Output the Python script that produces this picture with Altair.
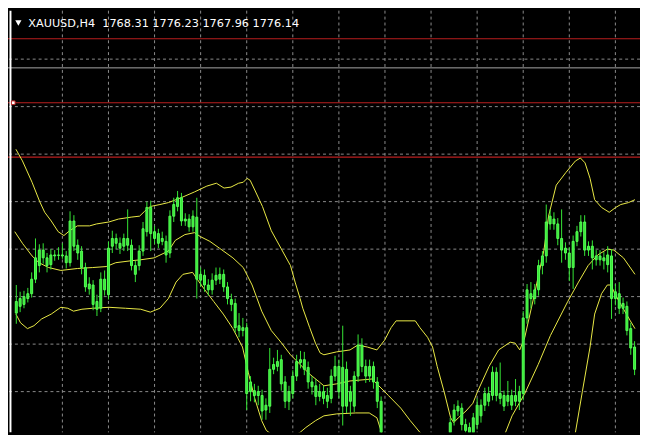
import altair as alt
import pandas as pd

# ---------------- data (prices) ----------------
idx = list(range(-1, 161))

opens = [1784.6,
    1786.0, 1786.4, 1787.6, 1788.6, 1791.6, 1794.4, 1797.6, 1796.0, 1794.6, 1796.6,
    1796.6, 1796.6, 1796.4, 1795.0, 1803.6, 1798.6, 1797.4, 1794.0, 1790.6, 1790.4,
    1787.0, 1785.6, 1791.6, 1788.4, 1798.4, 1800.0, 1799.0, 1798.4, 1800.0, 1798.6,
    1794.4, 1794.4, 1797.4, 1801.4, 1806.4, 1801.4, 1801.0, 1799.4, 1799.4, 1797.0,
    1804.6, 1806.6, 1808.4, 1804.0, 1804.0, 1802.4, 1804.4, 1791.4, 1792.4, 1790.4,
    1789.4, 1791.4, 1791.6, 1792.6, 1790.0, 1787.4, 1786.6, 1782.0, 1781.0, 1781.6,
    1768.4, 1768.6, 1768.4, 1767.6, 1764.6, 1765.4, 1773.0, 1773.6, 1775.0, 1770.4,
    1766.4, 1768.0, 1771.6, 1774.4, 1775.0, 1773.4, 1770.4, 1769.6, 1767.4, 1768.4,
    1766.4, 1767.0, 1771.6, 1773.6, 1765.4, 1773.0, 1766.4, 1765.4, 1771.6, 1778.0,
    1773.6, 1771.6, 1773.6, 1770.4, 1766.4, 1759.0, 1757.0, 1758.0, 1755.0, 1756.0,
    1753.0, 1754.0, 1752.0, 1753.4, 1751.4, 1752.6, 1754.0, 1753.0, 1755.4, 1754.6,
    1757.0, 1756.0, 1758.0, 1762.4, 1764.4, 1765.0, 1761.6, 1761.0, 1759.4, 1761.6,
    1765.6, 1765.6, 1768.0, 1767.6, 1772.4, 1768.0, 1767.6, 1766.4, 1767.6, 1766.4,
    1766.4, 1768.0, 1783.6, 1788.6, 1787.6, 1789.4, 1794.4, 1796.4, 1803.0, 1804.0,
    1803.0, 1800.0, 1798.0, 1797.0, 1794.0, 1799.4, 1801.4, 1803.4, 1797.6, 1798.4,
    1795.6, 1796.4, 1796.0, 1794.6, 1796.4, 1787.6, 1788.6, 1785.6, 1786.0, 1781.4,
    1777.6]

closes = [1787.0,
    1787.6, 1788.0, 1788.6, 1791.6, 1796.0, 1797.6, 1796.0, 1794.4, 1796.6, 1796.4,
    1796.5, 1796.4, 1795.0, 1803.6, 1798.4, 1797.0, 1794.0, 1790.0, 1789.6, 1786.4,
    1785.4, 1791.6, 1789.4, 1798.0, 1800.0, 1799.0, 1798.0, 1800.0, 1798.6, 1794.4,
    1792.6, 1797.4, 1802.0, 1806.4, 1801.0, 1800.0, 1799.0, 1800.0, 1796.6, 1804.6,
    1807.0, 1808.4, 1803.6, 1803.6, 1802.4, 1804.6, 1791.6, 1792.6, 1790.4, 1789.4,
    1791.4, 1792.4, 1792.6, 1790.0, 1787.6, 1786.4, 1781.6, 1781.0, 1781.6, 1768.0,
    1770.4, 1767.6, 1767.6, 1764.4, 1765.6, 1773.0, 1774.0, 1774.6, 1770.0, 1766.4,
    1768.4, 1771.6, 1774.6, 1775.0, 1773.0, 1770.4, 1769.4, 1767.4, 1768.4, 1767.0,
    1767.6, 1771.6, 1773.6, 1768.4, 1773.4, 1765.4, 1768.4, 1771.6, 1778.0, 1773.6,
    1771.6, 1773.6, 1770.4, 1766.4, 1759.0, 1757.0, 1758.0, 1755.0, 1756.0, 1753.0,
    1754.0, 1752.0, 1753.4, 1751.4, 1752.6, 1754.0, 1753.0, 1755.4, 1754.6, 1757.0,
    1756.0, 1758.0, 1762.0, 1764.6, 1765.4, 1761.6, 1760.4, 1759.0, 1763.0, 1765.6,
    1763.4, 1768.0, 1766.4, 1772.4, 1767.6, 1767.0, 1765.4, 1767.6, 1765.6, 1767.6,
    1768.4, 1783.6, 1789.4, 1787.6, 1789.4, 1794.4, 1796.4, 1803.4, 1804.6, 1803.0,
    1800.0, 1797.6, 1797.0, 1794.0, 1799.4, 1801.4, 1803.4, 1797.6, 1798.4, 1796.0,
    1796.4, 1795.6, 1795.4, 1796.6, 1787.6, 1789.0, 1785.6, 1786.6, 1781.0, 1777.4,
    1773.0]

highs = [1790.4,
    1789.0, 1789.2, 1789.8, 1793.0, 1800.0, 1798.8, 1799.0, 1797.0, 1797.8, 1797.6,
    1798.2, 1799.0, 1797.4, 1805.6, 1804.8, 1799.8, 1798.4, 1795.0, 1792.0, 1791.4,
    1788.4, 1793.0, 1793.4, 1799.4, 1801.6, 1801.0, 1800.2, 1801.0, 1806.0, 1799.8,
    1795.4, 1798.6, 1803.4, 1807.6, 1807.8, 1802.6, 1802.0, 1801.4, 1800.6, 1805.8,
    1808.4, 1809.8, 1809.4, 1805.2, 1805.0, 1805.8, 1808.4, 1794.0, 1793.6, 1791.6,
    1792.8, 1794.0, 1794.0, 1793.6, 1791.0, 1788.6, 1787.6, 1784.6, 1783.6, 1782.6,
    1771.6, 1770.0, 1769.6, 1768.8, 1767.0, 1777.4, 1775.4, 1777.0, 1776.0, 1771.6,
    1769.6, 1772.8, 1776.0, 1776.8, 1776.6, 1774.6, 1771.6, 1771.0, 1770.0, 1769.6,
    1769.2, 1773.0, 1775.8, 1775.0, 1782.0, 1774.6, 1769.6, 1772.6, 1780.2, 1779.4,
    1775.0, 1775.0, 1774.6, 1771.4, 1767.4, 1759.8, 1759.0, 1759.0, 1757.0, 1757.0,
    1755.0, 1755.0, 1754.4, 1754.4, 1753.6, 1755.0, 1755.0, 1756.4, 1756.4, 1758.0,
    1758.0, 1759.0, 1763.0, 1765.8, 1766.6, 1766.0, 1762.8, 1762.0, 1764.0, 1767.0,
    1766.8, 1769.2, 1769.4, 1773.6, 1773.4, 1774.4, 1768.6, 1770.6, 1768.8, 1771.0,
    1769.6, 1785.0, 1790.6, 1791.0, 1790.6, 1795.6, 1797.4, 1807.0, 1806.0, 1805.4,
    1804.2, 1806.0, 1799.2, 1798.2, 1800.6, 1802.6, 1804.8, 1804.8, 1799.4, 1799.6,
    1797.6, 1797.6, 1797.2, 1798.4, 1797.8, 1790.6, 1791.0, 1787.8, 1787.0, 1782.6,
    1778.8]

lows = [1782.4,
    1784.8, 1785.6, 1786.8, 1787.8, 1790.8, 1793.0, 1794.8, 1793.0, 1793.6, 1795.4,
    1795.6, 1795.8, 1793.8, 1794.2, 1797.4, 1795.6, 1792.6, 1789.0, 1788.4, 1785.2,
    1784.0, 1784.8, 1788.2, 1787.4, 1797.0, 1797.8, 1796.8, 1797.4, 1797.4, 1793.4,
    1791.0, 1793.4, 1796.4, 1800.4, 1797.4, 1798.8, 1798.0, 1798.6, 1795.0, 1796.0,
    1803.4, 1805.6, 1802.6, 1802.6, 1801.4, 1801.4, 1787.6, 1790.0, 1789.0, 1788.2,
    1788.4, 1790.4, 1790.6, 1789.0, 1786.4, 1785.0, 1780.6, 1779.6, 1779.8, 1764.6,
    1766.4, 1766.2, 1765.6, 1762.6, 1762.6, 1764.0, 1772.0, 1772.6, 1768.6, 1765.0,
    1764.6, 1767.0, 1770.6, 1773.2, 1771.8, 1769.0, 1767.8, 1765.6, 1766.4, 1765.8,
    1765.0, 1766.0, 1770.6, 1767.0, 1761.4, 1764.0, 1763.4, 1764.2, 1770.4, 1772.4,
    1770.2, 1770.4, 1769.0, 1765.0, 1757.6, 1756.0, 1756.0, 1754.0, 1754.0, 1752.0,
    1752.0, 1751.0, 1751.0, 1750.4, 1750.4, 1751.6, 1752.0, 1752.0, 1753.6, 1753.6,
    1755.0, 1755.0, 1757.0, 1761.4, 1763.4, 1760.4, 1759.0, 1758.0, 1758.0, 1760.6,
    1762.0, 1764.4, 1765.4, 1766.6, 1766.4, 1765.8, 1764.4, 1765.4, 1764.6, 1765.4,
    1764.6, 1766.6, 1782.4, 1785.6, 1786.4, 1788.2, 1792.6, 1795.0, 1801.8, 1801.8,
    1798.6, 1795.0, 1795.6, 1791.2, 1789.6, 1798.4, 1800.4, 1796.4, 1796.4, 1793.6,
    1794.4, 1794.4, 1793.6, 1793.0, 1783.4, 1786.2, 1784.4, 1784.4, 1780.0, 1776.0,
    1771.8]

# Bollinger bands, read at (bar position, price)
upper_pos = [-1.1, 0.6, 3.1, 5.1, 6.4, 8.1, 9.9, 11.4, 12.9, 14.9, 18.1, 19.9, 23.1, 25.6,
             28.9, 31.1, 32.4, 33.9, 36.4, 38.6, 41.9, 45.4, 48.6, 51.1, 53.1, 54.9, 56.9,
             58.1, 59.1, 59.9, 61.1, 63.1, 65.4, 67.9, 70.4, 71.6, 72.9, 73.6, 75.4, 76.9,
             78.1, 79.1, 82.4, 85.9, 87.9, 90.4, 92.9, 94.9, 96.6, 97.9, 102.9, 104.1, 106.1,
             107.4, 108.6, 110.4, 112.1, 112.9, 114.1, 116.1, 117.9, 119.1, 122.1, 124.6,
             127.6, 128.9, 130.1, 131.4, 133.9, 136.4, 137.6, 139.6, 142.1, 144.6, 145.9,
             147.1, 148.4, 149.6, 151.4, 153.4, 155.1, 156.4, 158.4, 160.1]
upper_val = [1818.4, 1816.0, 1811.6, 1807.6, 1805.4, 1803.6, 1801.4, 1800.6, 1801.6, 1802.6,
             1802.6, 1803.0, 1803.4, 1804.0, 1804.4, 1804.6, 1805.6, 1806.6, 1807.0, 1807.4,
             1808.4, 1809.6, 1810.8, 1811.4, 1810.4, 1810.6, 1811.4, 1811.6, 1812.4, 1812.0,
             1810.0, 1806.6, 1801.6, 1798.0, 1794.4, 1791.0, 1787.6, 1785.6, 1781.6, 1778.4,
             1776.4, 1776.0, 1776.6, 1777.0, 1778.0, 1777.6, 1777.0, 1779.0, 1781.6, 1783.0,
             1783.0, 1781.6, 1779.6, 1777.6, 1773.6, 1768.4, 1763.0, 1762.0, 1763.0, 1764.4,
             1766.0, 1768.4, 1773.6, 1777.0, 1778.6, 1778.4, 1777.0, 1779.6, 1788.4, 1797.6,
             1804.6, 1811.0, 1813.6, 1816.0, 1816.6, 1815.6, 1812.4, 1808.0, 1806.4, 1805.4,
             1806.4, 1807.0, 1807.4, 1808.0]

middle_pos = [-1.4, 0.6, 3.1, 4.9, 7.4, 10.6, 14.9, 18.9, 22.4, 24.9, 28.9, 31.4, 34.9, 38.6,
              40.4, 42.9, 45.4, 46.9, 49.4, 51.9, 55.4, 58.1, 60.4, 62.9, 65.4, 67.9, 70.4,
              72.9, 75.4, 77.9, 79.1, 82.4, 85.9, 91.6, 93.4, 95.9, 99.1, 101.6, 104.1, 108.1,
              113.1, 118.1, 123.1, 126.4, 128.1, 131.4, 134.9, 138.1, 142.6, 145.4, 147.9,
              150.4, 152.9, 154.6, 157.1, 160.1]
middle_val = [1801.4, 1799.0, 1796.4, 1795.0, 1794.0, 1793.4, 1793.8, 1794.0, 1794.2, 1795.0,
              1795.4, 1795.6, 1796.0, 1797.4, 1799.6, 1800.8, 1801.2, 1800.4, 1799.4, 1798.0,
              1796.0, 1794.0, 1790.4, 1785.0, 1781.0, 1778.6, 1776.0, 1774.0, 1772.0, 1770.4,
              1769.6, 1770.0, 1770.6, 1771.0, 1769.6, 1767.6, 1765.0, 1762.4, 1760.0, 1757.0,
              1755.4, 1755.4, 1757.0, 1760.0, 1763.4, 1768.0, 1774.0, 1780.0, 1787.0, 1791.0,
              1794.4, 1796.6, 1797.8, 1797.6, 1796.0, 1792.6]

lower_pos = [-1.1, 0.1, 1.9, 3.6, 5.6, 8.1, 10.6, 12.4, 13.9, 16.1, 18.9, 23.1, 27.4, 31.4,
             33.9, 36.4, 38.6, 40.6, 42.4, 44.9, 46.1, 47.9, 50.4, 52.9, 55.4, 57.9, 59.4,
             61.1, 62.9, 64.1, 68.1, 72.9, 74.4, 76.9, 79.1, 82.4, 87.4, 90.9, 92.9, 94.1,
             98.1, 105.6, 115.6, 125.6, 135.6, 141.9, 144.6, 146.4, 148.4, 149.6, 151.4,
             152.9, 153.9, 154.6, 156.4, 158.9, 160.1]
lower_val = [1784.4, 1782.6, 1781.4, 1782.0, 1783.4, 1784.4, 1785.8, 1785.6, 1785.0, 1785.4,
             1785.6, 1785.8, 1785.6, 1785.4, 1784.8, 1785.6, 1787.6, 1791.0, 1792.6, 1793.0,
             1791.6, 1789.6, 1787.0, 1784.4, 1781.4, 1777.6, 1772.4, 1767.0, 1762.4, 1760.4,
             1758.0, 1760.0, 1761.0, 1762.4, 1763.4, 1763.8, 1764.0, 1764.0, 1763.0, 1760.0,
             1753.0, 1747.0, 1745.0, 1746.0, 1749.0, 1754.0, 1760.0, 1768.4, 1777.6, 1784.4,
             1788.6, 1790.4, 1790.4, 1789.0, 1786.4, 1783.0, 1781.4]

red_levels = [1841.2, 1828.0, 1816.8]
gray_levels = [1835.2]
grid_prices = [1837.0, 1827.2, 1817.4, 1807.6, 1797.8, 1788.0, 1778.2, 1768.4]
grid_bars = [11, 23, 35, 47, 59, 71, 83, 95, 107, 119, 131, 143, 155]

header = "XAUUSD,H4\u00a0\u00a01768.31 1776.23 1767.96 1776.14"

# ---------------- tables ----------------
candles = pd.DataFrame({"i": idx, "open": opens, "high": highs, "low": lows, "close": closes})
bands = pd.concat([
    pd.DataFrame({"i": upper_pos, "v": upper_val, "band": "upper"}),
    pd.DataFrame({"i": middle_pos, "v": middle_val, "band": "middle"}),
    pd.DataFrame({"i": lower_pos, "v": lower_val, "band": "lower"}),
])

W, H = 640, 427
xs = alt.Scale(domain=[-1.875, 160.125], nice=False, zero=False)
ys = alt.Scale(domain=[1760.0, 1847.0], nice=False, zero=False)

GREEN = "#36e836"
YELLOW = "#ecec46"
RED = "#b81e1e"

vgrid = alt.Chart(pd.DataFrame({"i": grid_bars})).mark_rule(
    color="#8c8c8c", strokeDash=[3, 3], strokeWidth=1
).encode(x=alt.X("i:Q", scale=xs, axis=None))

hgrid = alt.Chart(pd.DataFrame({"p": grid_prices})).mark_rule(
    color="#8c8c8c", strokeDash=[3, 3], strokeWidth=1
).encode(y=alt.Y("p:Q", scale=ys, axis=None))

gray = alt.Chart(pd.DataFrame({"p": gray_levels})).mark_rule(
    color="#a8a8a8", strokeWidth=1
).encode(y=alt.Y("p:Q", scale=ys, axis=None))

red = alt.Chart(pd.DataFrame({"p": red_levels})).mark_rule(
    color=RED, strokeWidth=1.2
).encode(y=alt.Y("p:Q", scale=ys, axis=None))

band_lines = alt.Chart(bands).mark_line(color=YELLOW, strokeWidth=1, clip=True).encode(
    x=alt.X("i:Q", scale=xs, axis=None),
    y=alt.Y("v:Q", scale=ys, axis=None),
    detail="band:N",
)

wicks = alt.Chart(candles).mark_rule(color=GREEN, strokeWidth=1, clip=True).encode(
    x=alt.X("i:Q", scale=xs, axis=None),
    y=alt.Y("low:Q", scale=ys, axis=None),
    y2="high:Q",
)

bodies = alt.Chart(candles).mark_bar(
    size=2, fill=GREEN, stroke="#55ff55", strokeWidth=1, clip=True
).encode(
    x=alt.X("i:Q", scale=xs, axis=None),
    y=alt.Y("open:Q", scale=ys, axis=None),
    y2="close:Q",
)

border = alt.Chart(pd.DataFrame({"a": [0]})).mark_rule(color="#ffffff", strokeWidth=2).encode(
    x=alt.value(2.5), y=alt.value(0), y2=alt.value(H)
)

marker = alt.Chart(pd.DataFrame({"p": [red_levels[1]]})).mark_square(
    size=14, fill="#ffffff", stroke=RED, strokeWidth=1, opacity=1
).encode(x=alt.value(5.3), y=alt.Y("p:Q", scale=ys, axis=None))

tri = alt.Chart(pd.DataFrame({"a": [0]})).mark_point(
    shape="triangle-down", filled=True, color="#ffffff", size=40, opacity=1
).encode(x=alt.value(10.5), y=alt.value(12.5))

title = alt.Chart(pd.DataFrame({"t": [header]})).mark_text(
    align="left", baseline="alphabetic", color="#ffffff", font="DejaVu Sans", fontSize=11.4
).encode(x=alt.value(20.5), y=alt.value(16.8), text="t:N")

chart = alt.layer(
    vgrid, hgrid, gray, red, band_lines, wicks, bodies, border, marker, tri, title
).properties(
    width=W, height=H, padding=0, autosize=alt.AutoSizeParams(type="none")
).configure(background="#000000").configure_view(strokeWidth=0)

chart.save("out.html", embed_options={"renderer": "svg", "actions": False})
